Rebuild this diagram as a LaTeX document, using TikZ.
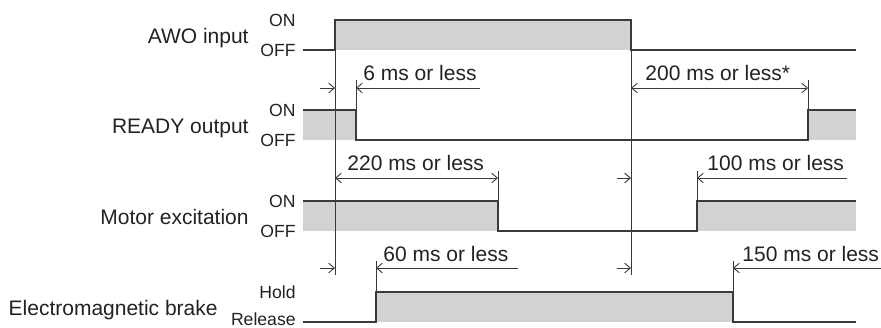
\documentclass[tikz,border=0pt]{standalone}
\usepackage{fontspec}
\setmainfont{Liberation Sans}
\usetikzlibrary{arrows.meta}

\definecolor{sigline}{HTML}{3A3A3A}
\definecolor{sigfill}{HTML}{D1D2D4}
\definecolor{txt}{HTML}{222222}

\tikzset{
  sig/.style={draw=sigline, line width=0.8pt},
  band/.style={fill=sigfill, draw=none},
  dimline/.style={draw=sigline, line width=0.45pt},
  dimarr/.style={dimline, -{Straight Barb[length=2.8pt,width=4.8pt]}},
  dimboth/.style={dimline, {Straight Barb[length=2.8pt,width=4.8pt]}-{Straight Barb[length=2.8pt,width=4.8pt]}},
  signame/.style={anchor=base east, inner sep=0pt, text=txt, font=\fontsize{10.5}{12}\selectfont},
  lvl/.style={anchor=base east, inner sep=0pt, text=txt, font=\fontsize{8.8}{10}\selectfont},
  dimtxt/.style={anchor=base west, inner sep=0pt, text=txt, font=\fontsize{10.5}{12}\selectfont}
}

\begin{document}
\begin{tikzpicture}[x=0.5pt,y=-0.5pt]
\useasboundingbox (0,0) rectangle (881,327);

%Signal names and levels
\node[signame] (awo) at (249,43) {AWO input};
\node[lvl] (awoon) at (296,26) {ON}; \node[lvl] (awooff) at (296,56) {OFF};
\node[signame] (rdy) at (249,133) {READY output};
\node[lvl] (rdyon) at (296,116) {ON}; \node[lvl] (rdyoff) at (296,146) {OFF};
\node[signame] (mot) at (249,224) {Motor excitation};
\node[lvl] (moton) at (296,207) {ON}; \node[lvl] (motoff) at (296,237) {OFF};
\node[signame] (brk) at (218,315) {Electromagnetic brake};
\node[lvl] (brkhold) at (296,298) {Hold}; \node[lvl] (brkrel) at (296,325) {Release};

%AWO input
\fill[band] (335,20) rectangle (631,50);
\draw[sig] (303,50)--(335,50)--(335,20)--(631,20)--(631,50)--(856,50);

%READY output
\fill[band] (303,110) rectangle (356,140); \fill[band] (808,110) rectangle (856,140);
\draw[sig] (303,110)--(356,110)--(356,140)--(808,140)--(808,110)--(856,110);

%Motor excitation
\fill[band] (303,201) rectangle (498,231); \fill[band] (697,201) rectangle (856,231);
\draw[sig] (303,201)--(498,201)--(498,231)--(697,231)--(697,201)--(856,201);

%Electromagnetic brake
\fill[band] (376,292) rectangle (733,322);
\draw[sig] (303,322)--(376,322)--(376,292)--(733,292)--(733,322)--(856,322);

%reference lines
\coordinate (onT) at (335,20); \coordinate (onB) at (335,275);
\coordinate (offT) at (631,20); \coordinate (offB) at (631,275);
\draw[dimline] (onT)--(onB); \draw[dimline] (offT)--(offB);

%extension lines
\draw[dimline] (356,80)--(356,110); \draw[dimline] (808,80)--(808,110);
\draw[dimline] (498,171)--(498,201); \draw[dimline] (697,171)--(697,201);
\draw[dimline] (376,261)--(376,292); \draw[dimline] (733,261)--(733,292);

%6 ms / 200 ms
\coordinate (a1) at (320,88); \coordinate (a2) at (335,88); \coordinate (a3) at (356,88); \coordinate (a4) at (480,88);
\coordinate (a5) at (631,88); \coordinate (a6) at (808,88);
\draw[dimarr] (a1)--(a2); \draw[dimarr] (a4)--(a3); \draw[dimboth] (a5)--(a6);
\node[dimtxt] (t6) at (363,80) {6 ms or less};
\node[dimtxt] (t200) at (645,80) {200 ms or less*};

%220 ms / 100 ms
\coordinate (b1) at (335,178); \coordinate (b2) at (498,178);
\coordinate (b3) at (617,178); \coordinate (b4) at (631,178); \coordinate (b5) at (697,178); \coordinate (b6) at (847,178);
\draw[dimboth] (b1)--(b2); \draw[dimarr] (b3)--(b4); \draw[dimarr] (b6)--(b5);
\node[dimtxt] (t220) at (347,170) {220 ms or less};
\node[dimtxt] (t100) at (707,170) {100 ms or less};

%60 ms / 150 ms
\coordinate (c1) at (320,268); \coordinate (c2) at (335,268); \coordinate (c3) at (376,268); \coordinate (c4) at (518,268);
\coordinate (c5) at (617,268); \coordinate (c6) at (631,268); \coordinate (c7) at (733,268); \coordinate (c8) at (881,268);
\draw[dimarr] (c1)--(c2); \draw[dimarr] (c4)--(c3); \draw[dimarr] (c5)--(c6); \draw[dimarr] (c8)--(c7);
\node[dimtxt] (t60) at (383,261) {60 ms or less};
\node[dimtxt] (t150) at (742,261) {150 ms or less};

\end{tikzpicture}
\end{document}
